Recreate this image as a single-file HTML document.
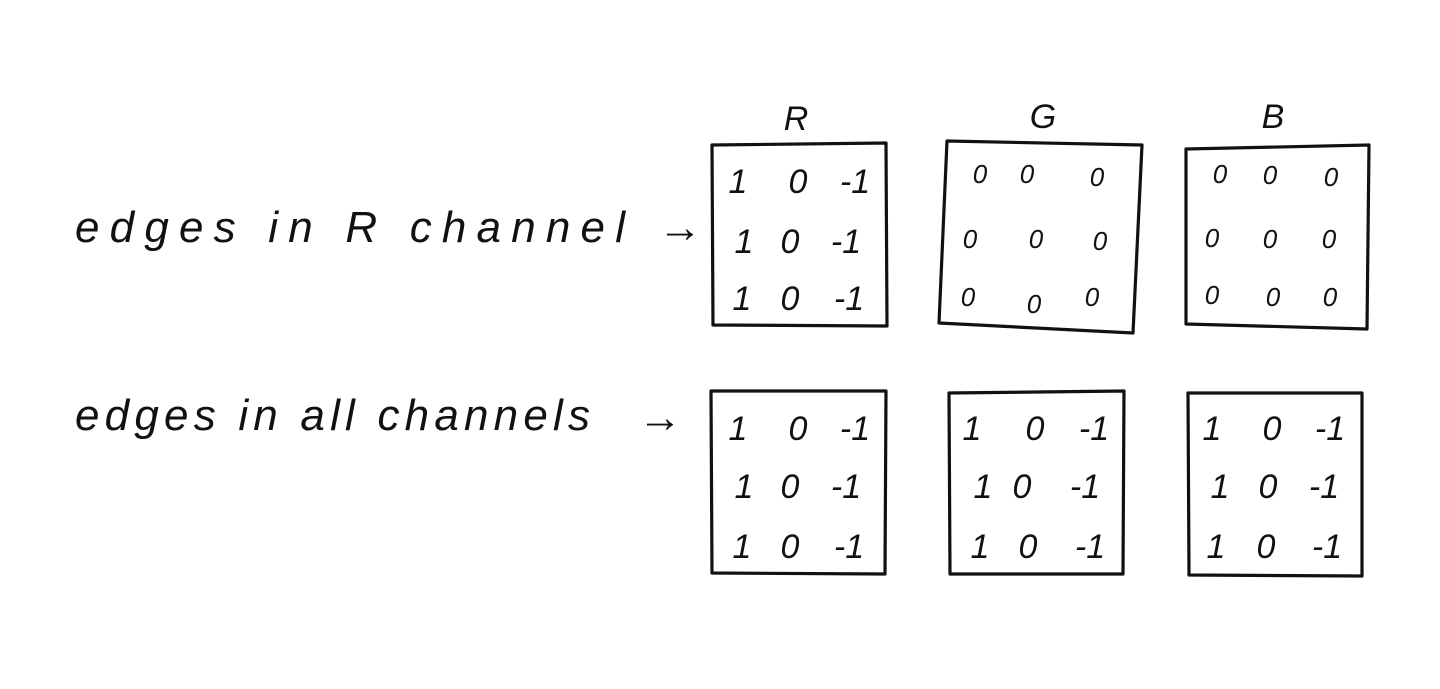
<!DOCTYPE html>
<html><head><meta charset="utf-8"><style>
html,body{margin:0;padding:0;background:#fff;}
svg{display:block}
text{font-family:"Liberation Sans",sans-serif;font-style:italic;fill:#111;}
</style></head><body>
<svg width="1440" height="689" viewBox="0 0 1440 689" xmlns="http://www.w3.org/2000/svg">
<g fill="none" stroke="#111" stroke-width="3.2" stroke-linejoin="round">
<path d="M712 145 L886 143 L887 326 L713 325 Z"/>
<path d="M947 141 L1142 145 L1133 333 L939 323 Z"/>
<path d="M1186 149 L1369 145 L1367 329 L1186 324 Z"/>
<path d="M711 391 L886 391 L885 574 L712 573 Z"/>
<path d="M949 393 L1124 391 L1123 574 L950 574 Z"/>
<path d="M1188 393 L1362 393 L1362 576 L1189 575 Z"/>
</g>
<g font-size="34" text-anchor="middle">
<text x="796" y="130">R</text><text x="1043" y="128">G</text><text x="1273" y="128">B</text>
</g>
<g font-size="44">
<text x="75" y="242" textLength="550">edges in R channel</text>
<text x="658" y="242">→</text>
<text x="75" y="430" textLength="515">edges in all channels</text>
<text x="638" y="432">→</text>
</g>
<g font-size="34" text-anchor="middle">
<text x="738" y="193">1</text><text x="798" y="193">0</text><text x="855" y="193">-1</text>
<text x="744" y="253">1</text><text x="790" y="253">0</text><text x="846" y="253">-1</text>
<text x="742" y="310">1</text><text x="790" y="310">0</text><text x="849" y="310">-1</text>
<g font-size="26">
<text x="980" y="183">0</text><text x="1027" y="183">0</text><text x="1097" y="186">0</text>
<text x="970" y="248">0</text><text x="1036" y="248">0</text><text x="1100" y="250">0</text>
<text x="968" y="306">0</text><text x="1034" y="313">0</text><text x="1092" y="306">0</text>
<text x="1220" y="183">0</text><text x="1270" y="184">0</text><text x="1331" y="186">0</text>
<text x="1212" y="247">0</text><text x="1270" y="248">0</text><text x="1329" y="248">0</text>
<text x="1212" y="304">0</text><text x="1273" y="306">0</text><text x="1330" y="306">0</text>
</g>
<text x="738" y="440">1</text><text x="798" y="440">0</text><text x="855" y="440">-1</text>
<text x="744" y="498">1</text><text x="790" y="498">0</text><text x="846" y="498">-1</text>
<text x="742" y="558">1</text><text x="790" y="558">0</text><text x="849" y="558">-1</text>
<text x="972" y="440">1</text><text x="1035" y="440">0</text><text x="1094" y="440">-1</text>
<text x="983" y="498">1</text><text x="1022" y="498">0</text><text x="1085" y="498">-1</text>
<text x="980" y="558">1</text><text x="1028" y="558">0</text><text x="1090" y="558">-1</text>
<text x="1212" y="440">1</text><text x="1272" y="440">0</text><text x="1330" y="440">-1</text>
<text x="1220" y="498">1</text><text x="1268" y="498">0</text><text x="1324" y="498">-1</text>
<text x="1216" y="558">1</text><text x="1266" y="558">0</text><text x="1327" y="558">-1</text>
</g>
</svg>
</body></html>
